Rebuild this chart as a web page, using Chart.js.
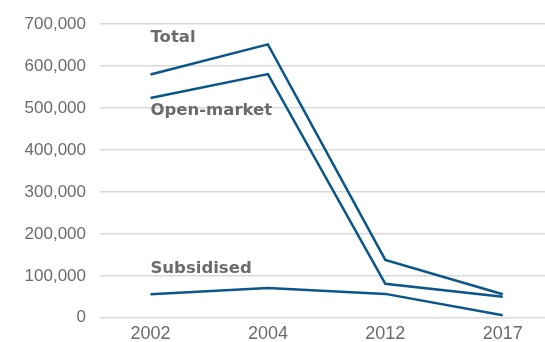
<!DOCTYPE html>
<html>
<head>
<meta charset="utf-8">
<script src="https://cdn.jsdelivr.net/npm/chart.js@4.4.0/dist/chart.umd.min.js"></script>
<style>
  html, body { margin: 0; padding: 0; background: #fff; }
  #wrap { width: 545px; height: 342px; }
</style>
</head>
<body>
<div id="wrap"><canvas id="grafica"></canvas></div>
<script>
const years = ['2002', '2004', '2012', '2017'];
const total = [580000, 652000, 138000, 56000];
const openMarket = [524000, 581000, 81000, 50000];
const subsidised = [56000, 71000, 57000, 6000];
const yTicks = [0, 100000, 200000, 300000, 400000, 500000, 600000, 700000];

// label text, anchor year index and value where the text sits
const seriesLabels = [
  { text: 'Total', x: 0, y: 668000 },
  { text: 'Open-market', x: 0, y: 493000 },
  { text: 'Subsidised', x: 0, y: 118000 },
];

const blue = '#0a5689';
const grey = '#6b6b6b';

const toPoints = (arr) => arr.map((v, i) => ({ x: i, y: v }));

const lineStyle = {
  borderColor: blue,
  backgroundColor: 'transparent',
  borderWidth: 2.5,
  tension: 0,
  pointRadius: 0,
};

const labelPlugin = {
  id: 'seriesLabels',
  afterDatasetsDraw(chart) {
    const { ctx, scales } = chart;
    ctx.save();
    ctx.font = 'bold 16.5px "DejaVu Sans", sans-serif';
    ctx.fillStyle = grey;
    ctx.textAlign = 'left';
    ctx.textBaseline = 'middle';
    seriesLabels.forEach((l) => {
      ctx.fillText(l.text, scales.x.getPixelForValue(l.x), scales.y.getPixelForValue(l.y));
    });
    ctx.restore();
  },
};

new Chart(document.getElementById('grafica').getContext('2d'), {
  type: 'line',
  data: {
    datasets: [
      { label: 'Total', data: toPoints(total), ...lineStyle },
      { label: 'Open-market', data: toPoints(openMarket), ...lineStyle },
      { label: 'Subsidised', data: toPoints(subsidised), ...lineStyle },
    ],
  },
  plugins: [labelPlugin],
  options: {
    responsive: true,
    maintainAspectRatio: false,
    animation: false,
    layout: { padding: { top: 11, right: 0, left: 0, bottom: 0 } },
    plugins: {
      legend: { display: false },
      tooltip: { enabled: false },
    },
    scales: {
      x: {
        type: 'linear',
        min: -0.43,
        max: 3.36,
        afterBuildTicks: (axis) => {
          axis.ticks = years.map((_, i) => ({ value: i }));
        },
        afterFit: (axis) => { axis.height = 22; },
        grid: { display: false },
        border: { display: false },
        ticks: {
          color: grey,
          padding: -3,
          font: { size: 18, family: '"Liberation Sans", Arial, sans-serif' },
          callback: (v) => years[v],
          maxRotation: 0,
        },
      },
      y: {
        min: 0,
        max: 700000,
        afterBuildTicks: (axis) => {
          axis.ticks = yTicks.map((v) => ({ value: v }));
        },
        afterFit: (axis) => { axis.width = 100; },
        grid: { color: '#d9d9d9', lineWidth: 1.5, drawTicks: false },
        border: { display: false },
        ticks: {
          color: grey,
          padding: 14,
          font: { size: 17, family: '"Liberation Sans", Arial, sans-serif' },
          callback: (v) => v.toLocaleString('en-US'),
        },
      },
    },
  },
});
</script>
</body>
</html>
